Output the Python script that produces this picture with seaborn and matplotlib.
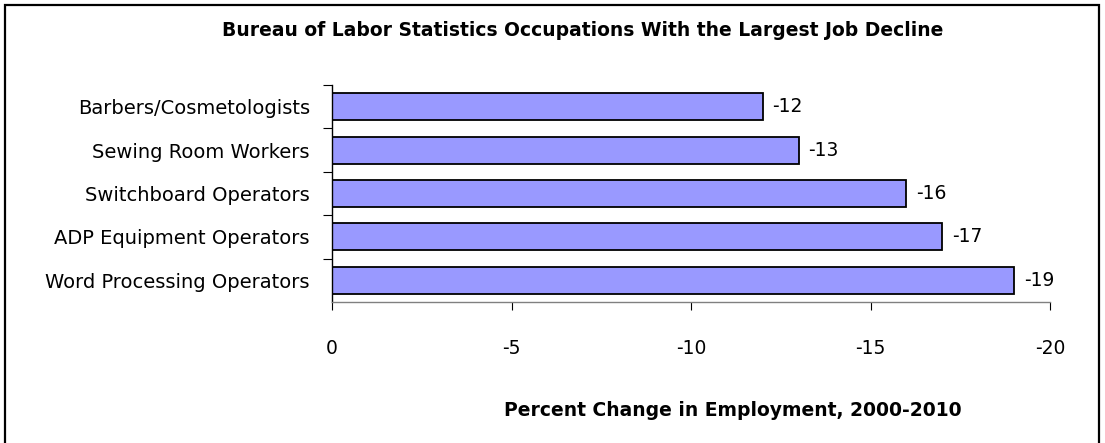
import matplotlib
matplotlib.use('Agg')
import matplotlib.pyplot as plt
import seaborn as sns
from matplotlib.patches import Rectangle
from matplotlib.ticker import FixedLocator

# Data
occupations = ['Barbers/Cosmetologists', 'Sewing Room Workers', 'Switchboard Operators',
               'ADP Equipment Operators', 'Word Processing Operators']
pct_change = [-12, -13, -16, -17, -19]
x_ticks = [0, -5, -10, -15, -20]
x_tick_labels = ['0', '-5', '-10', '-15', '-20']

sns.set_theme(style='white')
plt.rcParams['font.family'] = ['DejaVu Sans']

fig = plt.figure(figsize=(11.05, 4.43), dpi=100)
ax = fig.add_axes([332 / 1105, 1 - 302 / 443, (1050 - 332) / 1105, (302 - 85) / 443])

sns.barplot(x=pct_change, y=occupations, orient='h', color='#9999FF', saturation=1,
            edgecolor='black', linewidth=1.3, width=0.62, ax=ax)

ax.set_xlim(0, -20)
ax.set_ylim(4.5, -0.5)
ax.set_xticks(x_ticks)
ax.set_xticklabels(x_tick_labels, fontsize=13.5, color='black')
ax.tick_params(axis='x', direction='out', length=6, width=0.8, color='black', pad=21, bottom=True)
ax.tick_params(axis='y', which='major', length=0, labelsize=14, labelcolor='black', pad=16)
ax.yaxis.set_minor_locator(FixedLocator([-0.5, 0.5, 1.5, 2.5, 3.5]))
ax.tick_params(axis='y', which='minor', direction='out', length=6.5, width=0.8, color='black', left=True)
ax.set_xlabel('')
ax.set_ylabel('')

for s in ['top', 'right']:
    ax.spines[s].set_visible(False)
ax.spines['left'].set_color('black')
ax.spines['left'].set_linewidth(1.0)
ax.spines['bottom'].set_color('#808080')
ax.spines['bottom'].set_linewidth(1.0)

ax.bar_label(ax.containers[0], labels=[str(v) for v in pct_change], padding=7,
             fontsize=13.5, color='black')

fig.text(583 / 1105, 1 - 31 / 443, 'Bureau of Labor Statistics Occupations With the Largest Job Decline',
         ha='center', va='center', fontsize=13.5, fontweight='bold', color='black')
fig.text(733 / 1105, 1 - 410 / 443, 'Percent Change in Employment, 2000-2010',
         ha='center', va='center', fontsize=13.5, fontweight='bold', color='black')

# outer chart-area border
fig.patches.append(Rectangle((5 / 1105, -0.05), (1099 - 5) / 1105, 1.05 - 5 / 443,
                             transform=fig.transFigure, fill=False, edgecolor='black', linewidth=1.6))

fig.savefig('out.png', dpi=100)
